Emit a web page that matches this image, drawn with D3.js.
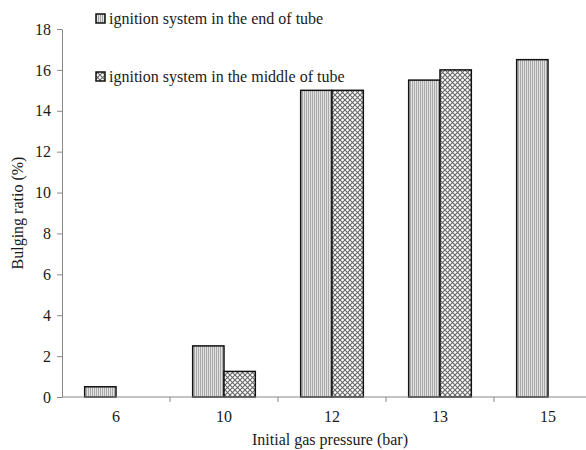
<!DOCTYPE html>
<html>
<head>
<meta charset="utf-8">
<script src="https://cdn.jsdelivr.net/npm/d3@7"></script>
</head>
<body style="margin:0;background:#fff">
<div id="chart"></div>
<script>
const categories = ["6", "10", "12", "13", "15"];
const seriesNames = ["ignition system in the end of tube", "ignition system in the middle of tube"];
const endValues = [0.5, 2.5, 15, 15.5, 16.5];
const middleValues = [0, 1.25, 15, 16, 0];
const yTicks = [0, 2, 4, 6, 8, 10, 12, 14, 16, 18];

const width = 586, height = 450;
const FONT = "Liberation Serif";
const svg = d3.select("#chart").append("svg")
  .attr("width", width).attr("height", height);

const defs = svg.append("defs");
// fine vertical stripes, light grey
const p1 = defs.append("pattern").attr("id", "pEnd")
  .attr("patternUnits", "userSpaceOnUse").attr("width", 2).attr("height", 2);
p1.append("rect").attr("width", 2).attr("height", 2).attr("fill", "#e2e2e2");
p1.append("rect").attr("width", 1).attr("height", 2).attr("fill", "#a8a8a8");
// diagonal checker
const p2 = defs.append("pattern").attr("id", "pMid")
  .attr("patternUnits", "userSpaceOnUse").attr("width", 5).attr("height", 5);
p2.append("rect").attr("width", 5).attr("height", 5).attr("fill", "#fff");
p2.append("path").attr("d", "M0,0L5,5M5,0L0,5").attr("stroke", "#666").attr("stroke-width", 1.1);

const x0 = 62, y0 = 397;
const x = d3.scaleBand().domain(categories).range([x0, x0 + 108 * 5]).paddingInner(0).paddingOuter(0);
const y = d3.scaleLinear().domain([0, 18]).range([y0, 29]);
const barW = x.bandwidth() * 0.29;

const clip = defs.append("clipPath").attr("id", "clip");
clip.append("rect").attr("width", width).attr("height", height);
const g = svg.append("g").attr("clip-path", "url(#clip)");

// bars
const series = [
  { name: seriesNames[0], values: endValues, fill: "url(#pEnd)", off: -1 },
  { name: seriesNames[1], values: middleValues, fill: "url(#pMid)", off: 0 }
];
series.forEach(s => {
  g.selectAll(null).data(categories.map((c, i) => ({ c, v: s.values[i] })).filter(d => d.v > 0))
    .join("rect")
    .attr("x", d => x(d.c) + x.bandwidth() / 2 + s.off * barW)
    .attr("y", d => y(d.v))
    .attr("width", barW)
    .attr("height", d => y0 - y(d.v))
    .attr("fill", s.fill)
    .attr("stroke", "#111")
    .attr("stroke-width", 1.5);
});

// y axis
const yAxis = g.append("g").attr("transform", `translate(${x0},0)`)
  .call(d3.axisLeft(y).tickValues(yTicks).tickSize(5).tickSizeOuter(0));
yAxis.select(".domain").attr("stroke", "#888");
yAxis.selectAll(".tick line").attr("stroke", "#888");
yAxis.selectAll(".tick text").attr("fill", "#1a1a1a").attr("x", -11);

// x axis
const xAxis = g.append("g").attr("transform", `translate(0,${y0})`);
xAxis.append("line").attr("x1", x0).attr("x2", x0 + 108 * 5).attr("stroke", "#888");
xAxis.selectAll(".xt").data(categories.slice(1)).join("line")
  .attr("x1", d => x(d)).attr("x2", d => x(d)).attr("y1", 0).attr("y2", 5).attr("stroke", "#888");
xAxis.selectAll(".xl").data(categories).join("text")
  .attr("x", d => x(d) + x.bandwidth() / 2).attr("y", 25)
  .attr("text-anchor", "middle").attr("fill", "#1a1a1a")
  .text(d => d);

// axis titles
svg.append("text").attr("x", 330).attr("y", 445).attr("text-anchor", "middle")
  .attr("fill", "#1a1a1a").text("Initial gas pressure (bar)");
svg.append("text").attr("transform", "translate(23,213) rotate(-90)").attr("text-anchor", "middle")
  .attr("fill", "#1a1a1a").text("Bulging ratio (%)");

// legend
const legY = [19, 77];
series.forEach((s, i) => {
  svg.append("rect").attr("x", 96).attr("y", legY[i] - 5).attr("width", 9).attr("height", 9)
    .attr("fill", s.fill).attr("stroke", "#111").attr("stroke-width", 1.5);
  svg.append("text").attr("x", 109).attr("y", legY[i] + 5)
    .attr("fill", "#1a1a1a").text(s.name);
});

svg.selectAll("text")
  .style("font-family", FONT)
  .style("font-size", "16px");
</script>
</body>
</html>
